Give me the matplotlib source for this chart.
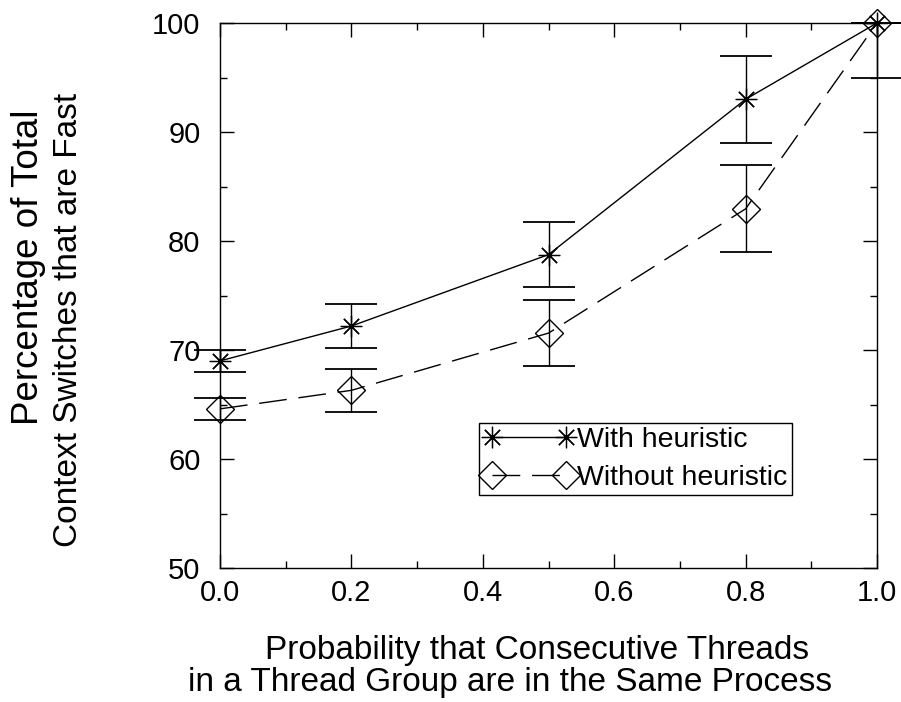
import matplotlib
matplotlib.use("Agg")
import matplotlib.pyplot as plt
from matplotlib.ticker import MultipleLocator, FormatStrFormatter

plt.rcParams['font.family'] = ['Liberation Sans', 'DejaVu Sans']

# --- data ---
prob = [0.0, 0.2, 0.5, 0.8, 1.0]
with_h = [69.0, 72.2, 78.75, 93.0, 100.0]
with_err_lo = [1.0, 2.0, 3.0, 4.0, 5.0]
with_err_hi = [1.0, 2.0, 3.0, 4.0, 0.0]
without_h = [64.6, 66.3, 71.55, 82.95, 100.0]
without_err_lo = [1.0, 2.0, 3.0, 4.0, 0.0]
without_err_hi = [1.0, 2.0, 3.0, 4.0, 0.0]

W, H = 901, 702
fig = plt.figure(figsize=(W / 100, H / 100), dpi=100)
ax = fig.add_axes([220 / W, 1 - 568 / H, 657 / W, 545 / H])

cap_kw = dict(capsize=19, ecolor="black", elinewidth=1.0, capthick=1.3, zorder=2)

e1 = ax.errorbar(prob, with_h, yerr=[with_err_lo, with_err_hi], fmt="none", **cap_kw)
e2 = ax.errorbar(prob, without_h, yerr=[without_err_lo, without_err_hi], fmt="none", **cap_kw)
for e in (e1, e2):
    for cap in e[1]:
        cap.set_color("0.4")
        cap.set_clip_on(False)
    for bar in e[2]:
        bar.set_clip_on(False)

l1, = ax.plot(prob, with_h, color="black", lw=1.0, marker=(8, 2, 0), ms=15.5,
              mew=0.9, label="With heuristic", clip_on=False, zorder=3)
l2, = ax.plot(prob, without_h, color="black", lw=1.0, dashes=(20, 8.5), marker="D",
              ms=14, mew=1.0, mfc="none", label="Without heuristic", clip_on=False, zorder=3)

ax.set_xlim(0.0, 1.0)
ax.set_ylim(50, 100)
ax.xaxis.set_major_locator(MultipleLocator(0.2))
ax.xaxis.set_minor_locator(MultipleLocator(0.1))
ax.yaxis.set_major_locator(MultipleLocator(10))
ax.yaxis.set_minor_locator(MultipleLocator(5))
ax.xaxis.set_major_formatter(FormatStrFormatter("%.1f"))
ax.tick_params(which="both", direction="in", top=True, right=True, width=1.0)
ax.tick_params(which="major", length=10)
ax.tick_params(which="minor", length=5)
ax.tick_params(axis="x", which="major", labelsize=21, pad=8)
ax.tick_params(axis="y", which="major", labelsize=21, pad=14)
for s in ax.spines.values():
    s.set_linewidth(1.0)

leg = ax.legend(handles=[l1, l2], loc="upper left",
                bbox_to_anchor=(479 / W, 1 - 423 / H), bbox_transform=fig.transFigure,
                numpoints=2, fontsize=20.5, handlelength=3.2, handletextpad=0.1,
                borderpad=0.15, labelspacing=0.4, borderaxespad=0, fancybox=False,
                framealpha=1)
leg.get_frame().set_edgecolor("black")
leg.get_frame().set_linewidth(1.0)

# axis titles
fig.text(537 / W, 1 - 650 / H, "Probability that Consecutive Threads",
         ha="center", va="center", fontsize=24)
fig.text(510 / W, 1 - 683 / H, "in a Thread Group are in the Same Process",
         ha="center", va="center", fontsize=24)
fig.text(29 / W, 1 - 267 / H, "Percentage of Total", rotation=90,
         ha="center", va="center", fontsize=26.5)
fig.text(69 / W, 1 - 320 / H, "Context Switches that are Fast", rotation=90,
         ha="center", va="center", fontsize=24)

fig.savefig("out.png", dpi=100)
